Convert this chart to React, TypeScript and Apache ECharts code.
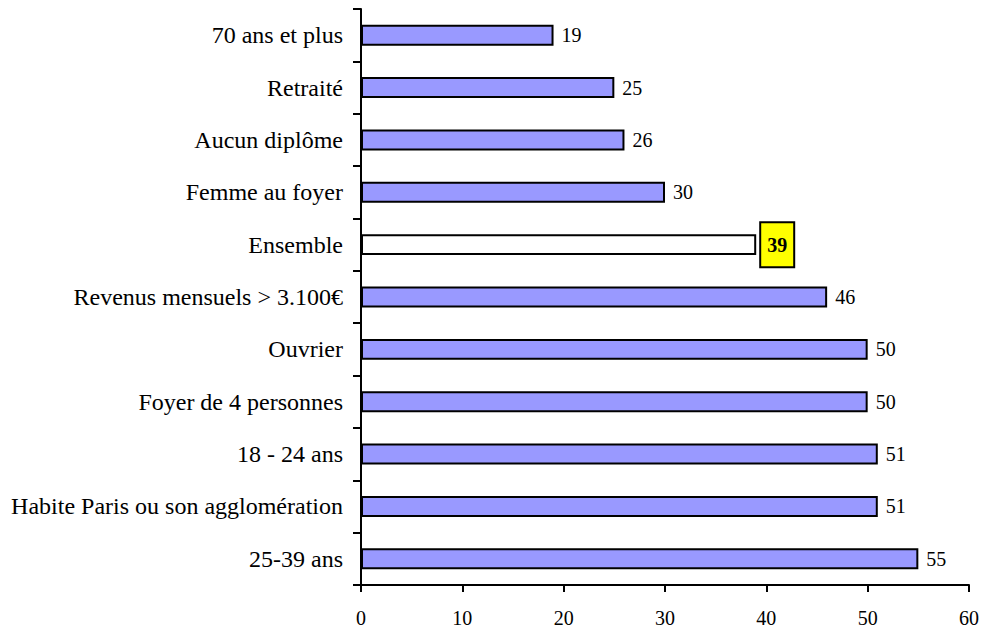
import React, { useEffect, useRef } from "react";
import * as echarts from "echarts";

const categories = [
  "70 ans et plus",
  "Retraité",
  "Aucun diplôme",
  "Femme au foyer",
  "Ensemble",
  "Revenus mensuels > 3.100€",
  "Ouvrier",
  "Foyer de 4 personnes",
  "18 - 24 ans",
  "Habite Paris ou son agglomération",
  "25-39 ans",
];
const values = [19, 25, 26, 30, 39, 46, 50, 50, 51, 51, 55];
const highlight = "Ensemble";
const xTicks = { min: 0, max: 60, interval: 10 };

const FONT = "'Liberation Serif', 'Times New Roman', serif";

export default function App() {
  const ref = useRef<HTMLDivElement>(null);
  useEffect(() => {
    if (!ref.current) return;
    const chart = echarts.init(ref.current, null, { renderer: "svg" });
    const data = values.map((v, i) => {
      const isH = categories[i] === highlight;
      return {
        value: v,
        itemStyle: {
          color: isH ? "#FFFFFF" : "#9999FF",
          borderColor: "#000",
          borderWidth: 2,
        },
        label: isH
          ? {
              fontWeight: "bold",
              backgroundColor: "#FFFF00",
              borderColor: "#000",
              borderWidth: 2,
              padding: [12, 6, 11, 6],
              distance: 5,
            }
          : undefined,
      };
    });
    chart.setOption({
      animation: false,
      grid: { left: 361, right: 13, top: 9, bottom: 41, containLabel: false },
      xAxis: {
        type: "value",
        min: xTicks.min,
        max: xTicks.max,
        interval: xTicks.interval,
        splitLine: { show: false },
        axisLine: { show: true, lineStyle: { color: "#000", width: 2 } },
        axisTick: { show: true, length: 7, lineStyle: { color: "#000", width: 2 } },
        axisLabel: { color: "#000", fontFamily: FONT, fontSize: 20, margin: 23 },
      },
      yAxis: {
        type: "category",
        data: categories,
        inverse: true,
        axisLine: { show: true, lineStyle: { color: "#000", width: 2 } },
        axisTick: { show: true, length: 8, lineStyle: { color: "#000", width: 2 } },
        axisLabel: { color: "#000", fontFamily: FONT, fontSize: 24, margin: 18 },
      },
      series: [
        {
          type: "bar",
          data,
          barWidth: "40%",
          label: {
            show: true,
            position: "right",
            distance: 8,
            color: "#000",
            fontFamily: FONT,
            fontSize: 20,
          },
        },
      ],
    });
    return () => chart.dispose();
  }, []);
  return (
    <div
      ref={ref}
      style={{ position: "absolute", left: 0, top: 0, width: 982, height: 628 }}
    />
  );
}
